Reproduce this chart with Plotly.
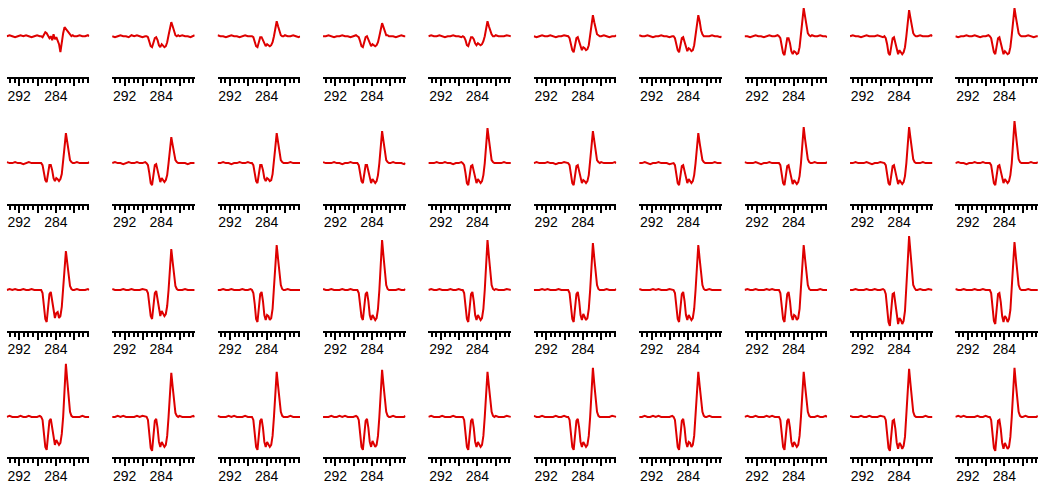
import plotly.graph_objects as go

# Binding energy grid (eV), shared by every panel
ENERGY = [294.7, 294.1, 293.5, 292.9, 292.3, 291.7, 291.1, 290.5, 289.9, 289.3, 288.7, 288.1, 287.5,
          287.2, 286.9, 286.6, 286.3, 286.0, 285.7, 285.4, 285.1, 284.8, 284.5, 284.2, 283.9,
          283.6, 283.3, 283.0, 282.7, 282.4, 282.1, 281.8, 281.5, 281.2, 280.9, 280.6, 280.3,
          280.0, 279.4, 278.8, 278.2, 277.6, 277.0, 276.7]

TICK_VALS = [292, 288, 284, 280, 276]
TICK_TEXT = ["292", "", "284", "", ""]

ROW1 = [
    [0, 1, 0, -1, 0, 1, 0, 1, 0, -1, 0, 1, 0, 0, -1, 2, 4, 3, 1, -2, 0, -4, 2, -3, -1, -5, -8, -16, -5, 3, 9, 7, 6, 3, 1, 0, 1, 0, 0, 1, 0, 0, 1, 0],
    [0, -1, 0, 1, 0, 0, -1, 1, 0, 1, 0, -1, 0, 0, -1, -5, -10, -11, -7, -2, -1, -4, -9, -11, -8, -10, -11, -10, -6, 1, 7, 14, 10, 4, 1, 0, 1, 0, 1, 0, 0, -1, 0, 1],
    [1, 0, 0, -1, 0, 1, 0, 0, -1, 0, 1, 0, 0, 0, -1, -5, -10, -11, -6, -1, -1, -4, -8, -10, -8, -9, -10, -9, -6, 0, 8, 15, 10, 5, 1, 0, 0, 1, 0, 0, 1, 0, -1, 0],
    [0, 0, 1, 0, -1, 0, 0, 1, 0, 0, -1, 0, 1, 0, -1, -5, -10, -11, -7, -1, 0, -4, -8, -10, -8, -9, -10, -9, -6, 0, 7, 13, 9, 4, 1, 1, 0, 0, 0, -1, 0, 1, 0, 0],
    [0, 1, 0, 0, 1, 0, -1, 0, 0, 1, 0, 0, -1, 0, -1, -4, -9, -10, -6, -1, -1, -3, -7, -9, -7, -8, -9, -8, -5, 0, 8, 15, 10, 5, 2, 0, 0, 1, 0, 0, 0, 1, 0, 0],
    [0, -1, 0, 1, 0, 0, 1, 0, -1, 0, 0, 1, 0, 0, -2, -7, -14, -16, -10, -2, -1, -5, -11, -14, -11, -12, -14, -13, -9, 0, 11, 21, 14, 6, 2, 1, 0, 0, 1, 0, -1, 0, 0, 1],
    [1, 0, 0, 1, 0, -1, 0, 0, 1, 0, 0, -1, 0, 0, -2, -7, -14, -16, -9, -2, -1, -6, -12, -15, -12, -13, -15, -14, -9, 0, 11, 21, 15, 6, 2, 0, 0, 0, 0, 1, 0, 0, -1, 0],
    [0, 0, -1, 0, 1, 0, 0, -1, 0, 1, 0, 0, 1, 0, -2, -9, -17, -19, -11, -2, -2, -7, -15, -18, -15, -16, -18, -17, -11, 0, 15, 28, 19, 8, 3, 1, 0, 1, 0, 0, 1, 0, 0, -1],
    [0, 1, 0, 0, -1, 0, 1, 0, 0, 0, 1, 0, -1, 0, -2, -8, -17, -19, -12, -2, -1, -7, -15, -18, -14, -16, -18, -16, -11, 0, 14, 26, 18, 8, 3, 1, 0, 0, 1, 0, 0, 0, 1, 0],
    [0, -1, 0, 0, 1, 0, 0, 1, 0, -1, 0, 0, 1, 0, -2, -8, -16, -18, -11, -2, -1, -7, -15, -18, -15, -17, -18, -17, -11, 1, 15, 28, 19, 8, 3, 1, 0, 0, 0, 1, 0, -1, 0, 0],
]

ROW2 = [
    [1, 0, 0, 1, 0, 0, -1, 0, 1, 0, 0, 0, 0, 0, -2, -9, -17, -19, -11, -2, -2, -7, -15, -18, -15, -16, -18, -16, -11, 0, 16, 30, 20, 9, 3, 1, 0, 0, 1, 0, 0, 0, 0, 1],
    [0, 1, 0, 0, -1, 0, 1, 0, 0, 1, 0, 0, 1, 0, -2, -10, -20, -22, -13, -2, -1, -7, -16, -19, -15, -17, -19, -17, -12, 0, 14, 26, 18, 8, 3, 1, 0, 0, 0, 0, -1, 0, 0, 0],
    [0, 0, 1, 0, 0, -1, 0, 0, 1, 0, 0, 1, 0, 0, -2, -9, -18, -20, -12, -2, -2, -7, -15, -18, -15, -16, -18, -17, -11, 0, 16, 30, 20, 9, 3, 1, 0, 0, 0, 1, 0, 0, 0, 0],
    [1, 0, 0, 0, 1, 0, 0, -1, 0, 0, 1, 0, 0, 0, -2, -9, -18, -20, -12, -2, -2, -8, -16, -20, -16, -18, -20, -18, -12, 0, 17, 32, 22, 10, 3, 1, 0, 0, 1, 0, 0, 0, -1, 0],
    [0, 0, 0, 1, 0, 0, 1, 0, 0, -1, 0, 0, 1, 0, -2, -10, -20, -22, -13, -3, -2, -8, -16, -20, -16, -18, -20, -18, -12, 0, 18, 35, 24, 10, 3, 1, 0, 0, 0, 0, 1, 0, 0, 0],
    [0, 1, 0, 0, 0, 1, 0, 0, -1, 0, 0, 1, 0, 0, -2, -10, -20, -22, -13, -3, -2, -8, -16, -20, -17, -18, -20, -18, -12, 0, 17, 32, 22, 10, 3, 1, 0, 1, 0, 0, 0, 0, 1, 0],
    [0, 0, 1, 0, -1, 0, 0, 1, 0, 0, 0, -1, 0, 0, -2, -10, -20, -22, -13, -3, -2, -8, -16, -20, -16, -18, -20, -18, -12, 0, 16, 30, 20, 9, 3, 1, 0, 0, 0, 0, 1, 0, 0, 0],
    [1, 0, 0, 0, 1, 0, -1, 0, 0, 1, 0, 0, 0, 0, -2, -10, -20, -22, -13, -3, -2, -8, -17, -21, -17, -19, -21, -19, -13, 0, 19, 36, 24, 11, 4, 1, 0, 0, 1, 0, 0, 0, 0, 1],
    [0, 0, 1, 0, 0, 0, 1, 0, -1, 0, 0, 1, 0, 0, -2, -10, -20, -22, -13, -3, -2, -8, -17, -21, -17, -19, -21, -19, -13, 0, 19, 36, 25, 11, 4, 1, 0, 0, 0, 1, 0, 0, 0, 0],
    [0, 1, 0, 0, -1, 0, 0, 1, 0, 0, 1, 0, 0, 0, -2, -10, -20, -22, -13, -3, -2, -8, -16, -20, -16, -18, -20, -18, -12, 0, 22, 42, 29, 13, 4, 1, 0, 0, 0, 0, 1, 0, 0, 1],
]

ROW3 = [
    [0, 1, 0, 1, 0, 0, 1, 0, 0, 1, 0, 0, 0, 0, -3, -14, -29, -32, -19, -4, -2, -11, -23, -28, -23, -22, -28, -26, -17, 0, 20, 39, 27, 12, 4, 1, 0, 0, 1, 0, 0, 0, 1, 0],
    [1, 0, 0, 0, 1, 0, 0, 1, 0, 0, 0, 1, 0, 0, -3, -13, -26, -29, -17, -3, -1, -10, -21, -26, -21, -23, -26, -24, -16, 0, 21, 41, 28, 12, 4, 1, 0, 0, 0, 1, 0, 0, 0, 0],
    [0, 0, 1, 0, 0, 1, 0, 0, 0, 1, 0, 0, 1, 0, -3, -14, -29, -32, -19, -4, -2, -11, -25, -30, -25, -26, -30, -28, -19, 0, 23, 45, 31, 14, 5, 1, 0, 0, 1, 0, 0, 0, 0, 0],
    [1, 0, 0, 1, 0, 0, 0, 1, 0, 0, 1, 0, 0, 0, -3, -14, -27, -30, -18, -4, -2, -11, -25, -30, -25, -27, -30, -28, -19, 0, 26, 50, 34, 15, 5, 1, 0, 0, 0, 0, 1, 0, 0, 1],
    [0, 1, 0, 0, 1, 0, 0, 0, 1, 0, 0, 1, 0, 0, -3, -14, -29, -32, -19, -4, -2, -11, -25, -30, -25, -27, -30, -28, -19, 0, 26, 50, 34, 15, 5, 1, 0, 1, 0, 0, 0, 1, 0, 0],
    [0, 0, 0, 1, 0, 1, 0, 0, 0, 1, 0, 0, 0, 0, -3, -14, -29, -32, -19, -4, -2, -11, -25, -30, -24, -27, -30, -28, -19, 0, 24, 47, 32, 14, 5, 1, 0, 0, 0, 1, 0, 0, 0, 1],
    [1, 0, 0, 0, 0, 1, 0, 1, 0, 0, 0, 1, 0, 0, -3, -14, -29, -32, -19, -4, -2, -11, -25, -30, -25, -27, -30, -28, -19, 0, 23, 45, 31, 14, 5, 1, 0, 0, 1, 0, 0, 0, 0, 0],
    [0, 1, 0, 0, 1, 0, 0, 0, 1, 0, 1, 0, 0, 0, -3, -14, -29, -32, -19, -4, -2, -11, -25, -30, -25, -26, -30, -28, -19, 0, 23, 45, 31, 14, 5, 1, 0, 0, 0, 0, 1, 0, 0, 0],
    [0, 0, 1, 0, 0, 0, 1, 0, 0, 1, 0, 0, 1, 0, -4, -16, -32, -36, -22, -4, -3, -13, -28, -34, -28, -30, -34, -31, -21, 0, 28, 54, 37, 16, 5, 2, 0, 0, 1, 0, 0, 1, 0, 0],
    [1, 0, 0, 1, 0, 0, 0, 1, 0, 0, 1, 0, 0, 0, -3, -15, -31, -34, -20, -4, -3, -12, -26, -32, -26, -28, -32, -29, -20, 0, 25, 48, 33, 14, 5, 1, 0, 0, 0, 1, 0, 0, 0, 0],
]

ROW4 = [
    [0, 1, 0, 0, 0, 1, 0, 0, 1, 0, 0, 0, 1, 0, -3, -15, -30, -33, -20, -4, -2, -11, -23, -28, -23, -25, -28, -26, -17, 0, 28, 53, 36, 16, 5, 1, 0, 0, 0, 0, 1, 0, 0, 0],
    [0, 0, 1, 0, 1, 0, 0, 0, 0, 1, 0, 1, 0, 0, -3, -15, -31, -34, -20, -4, -2, -11, -25, -30, -25, -27, -30, -28, -19, 0, 23, 44, 30, 13, 4, 1, 0, 1, 0, 0, 0, 0, 1, 0],
    [1, 0, 0, 0, 1, 0, 1, 0, 0, 0, 1, 0, 0, 0, -3, -15, -30, -33, -20, -4, -2, -11, -25, -30, -25, -27, -30, -28, -19, 0, 23, 45, 31, 14, 5, 1, 0, 0, 0, 1, 0, 0, 0, 0],
    [0, 0, 0, 1, 0, 0, 1, 0, 1, 0, 0, 0, 1, 0, -3, -15, -30, -33, -20, -4, -2, -11, -25, -30, -24, -27, -30, -28, -19, 0, 24, 47, 32, 14, 5, 1, 0, 0, 1, 0, 0, 0, 0, 1],
    [0, 1, 0, 0, 0, 1, 0, 0, 0, 1, 0, 0, 0, 0, -3, -15, -30, -33, -20, -4, -2, -11, -25, -30, -25, -27, -30, -28, -19, 0, 23, 45, 31, 14, 5, 1, 0, 1, 0, 0, 0, 1, 0, 0],
    [1, 0, 0, 1, 0, 0, 0, 0, 1, 0, 0, 1, 0, 0, -3, -15, -30, -33, -20, -4, -2, -11, -25, -30, -25, -27, -30, -28, -19, 0, 25, 49, 33, 15, 5, 1, 0, 0, 0, 0, 0, 1, 0, 0],
    [0, 0, 1, 0, 0, 1, 0, 1, 0, 0, 0, 0, 1, 0, -3, -15, -30, -33, -20, -4, -2, -11, -25, -30, -25, -26, -30, -28, -19, 0, 23, 45, 31, 14, 5, 1, 0, 0, 1, 0, 0, 0, 0, 0],
    [0, 1, 0, 0, 1, 0, 0, 0, 1, 0, 1, 0, 0, 0, -3, -15, -30, -33, -20, -4, -2, -11, -25, -30, -25, -27, -30, -28, -19, 0, 23, 45, 31, 14, 5, 1, 0, 0, 0, 1, 0, 0, 1, 0],
    [1, 0, 0, 0, 1, 0, 0, 1, 0, 0, 0, 1, 0, 0, -3, -15, -31, -34, -20, -4, -3, -12, -26, -32, -26, -28, -32, -29, -20, 0, 25, 48, 33, 14, 5, 1, 0, 0, 0, 0, 1, 0, 0, 0],
    [0, 1, 0, 1, 0, 0, 0, 0, 1, 0, 0, 1, 0, 0, -3, -15, -31, -34, -20, -4, -3, -12, -26, -32, -26, -29, -32, -30, -20, 0, 25, 49, 33, 15, 5, 1, 0, 0, 1, 0, 0, 0, 0, 1],
]

ROWS = [ROW1, ROW2, ROW3, ROW4]

W, H = 1040, 483
COL_LEFT0, COL_PITCH, AX_W = 6.7, 105.4, 82.6
ROW_AXIS0, ROW_PITCH = 76.7, 126.9
BELOW = 40.5          # pixels between baseline and axis line
PANEL_H = 100
X_RANGE = [294.73, 276.69]
LINE_COLOR = "#de0000"

fig = go.Figure()
layout = {}
for r, row in enumerate(ROWS):
    for c, ys in enumerate(row):
        i = r * 10 + c + 1
        sfx = "" if i == 1 else str(i)
        fig.add_trace(go.Scatter(x=ENERGY, y=ys, mode="lines",
                                 line=dict(color=LINE_COLOR, width=2),
                                 xaxis="x" + sfx, yaxis="y" + sfx,
                                 hoverinfo="skip"))
        left = COL_LEFT0 + COL_PITCH * c
        axis_px = ROW_AXIS0 + ROW_PITCH * r
        top_px = max(0.0, axis_px - PANEL_H)
        layout["xaxis" + sfx] = dict(
            domain=[left / W, (left + AX_W) / W], anchor="y" + sfx,
            range=X_RANGE, showline=True, linecolor="black", linewidth=2,
            ticks="outside", ticklen=7, tickwidth=1.6, tickcolor="black",
            tickvals=TICK_VALS, ticktext=TICK_TEXT, ticklabelstandoff=-2,
            minor=dict(dtick=1, tick0=292, ticks="outside", ticklen=4,
                       tickwidth=1.6, tickcolor="black"),
            showgrid=False, zeroline=False,
            tickfont=dict(family="Liberation Sans, Arial", size=14, color="black"),
        )
        layout["yaxis" + sfx] = dict(
            domain=[1 - axis_px / H, 1 - top_px / H], anchor="x" + sfx,
            range=[-BELOW, (axis_px - top_px) - BELOW], visible=False,
        )

fig.update_layout(width=W, height=H, margin=dict(l=0, r=0, t=0, b=0),
                  paper_bgcolor="white", plot_bgcolor="white", showlegend=False,
                  **layout)
fig.write_html("out.html")
